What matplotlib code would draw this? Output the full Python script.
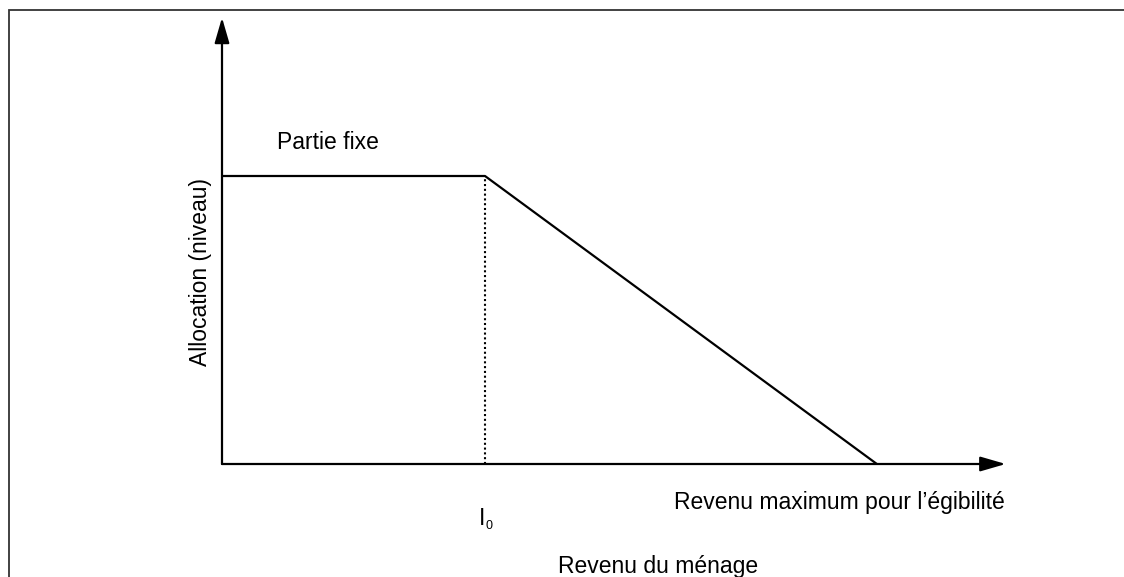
import matplotlib
matplotlib.use('Agg')
import matplotlib.pyplot as plt
from matplotlib.patches import Rectangle

# schematic values (relative units)
income = [0.0, 1.0, 2.49]          # origin, I0, maximum income for eligibility
allocation = [1.0, 1.0, 0.0]       # fixed part then linear taper
i0 = income[1]
x_end, y_end = 2.98, 1.55          # axis arrow tips

plt.rcParams['font.family'] = ['Liberation Sans', 'DejaVu Sans']

fig = plt.figure(figsize=(11.24, 5.77), dpi=100)
fig.patches.append(Rectangle((9 / 1124, -0.05), 1.2, 1 - 10 / 577 + 0.05,
                             transform=fig.transFigure, fill=False,
                             edgecolor='#333333', linewidth=1.3))

ax = fig.add_axes([222 / 1124, 113 / 577, 3 * 263 / 1124, 1.6 * 288 / 577])
ax.set_xlim(0, 3)
ax.set_ylim(0, 1.6)
ax.axis('off')

# axes with arrows
arrow = dict(arrowstyle='-|>,head_length=15.5,head_width=4.5', mutation_scale=1,
             color='black', linewidth=1.6, shrinkA=0, shrinkB=0)
ax.annotate('', xy=(x_end, 0), xytext=(0, 0), arrowprops=arrow, annotation_clip=False)
ax.annotate('', xy=(0, y_end), xytext=(0, 0), arrowprops=arrow, annotation_clip=False)

# allocation schedule
ax.plot(income, allocation, color='black', linewidth=1.6, solid_capstyle='butt')
ax.plot([i0, i0], [0, allocation[1]], color='black', linewidth=1.5,
        linestyle=(0, (1, 1.3)))

fs = 16.5
ax.text(0.21, 1.115, 'Partie fixe', fontsize=fs, ha='left', va='center')
ax.text(1.72, -0.135, 'Revenu maximum pour l\u2019égibilité', fontsize=fs,
        ha='left', va='center')
ax.text(i0, -0.19, 'I', fontsize=fs, ha='right', va='center')
ax.text(i0 + 0.003, -0.215, '0', fontsize=9, ha='left', va='center')
fig.text(658 / 1124, 1 - 566 / 577, 'Revenu du ménage', fontsize=fs,
         ha='center', va='center')
fig.text(200 / 1124, 1 - 272 / 577, 'Allocation (niveau)', fontsize=fs,
         ha='center', va='center', rotation=90)

fig.savefig('out.png', dpi=100)
